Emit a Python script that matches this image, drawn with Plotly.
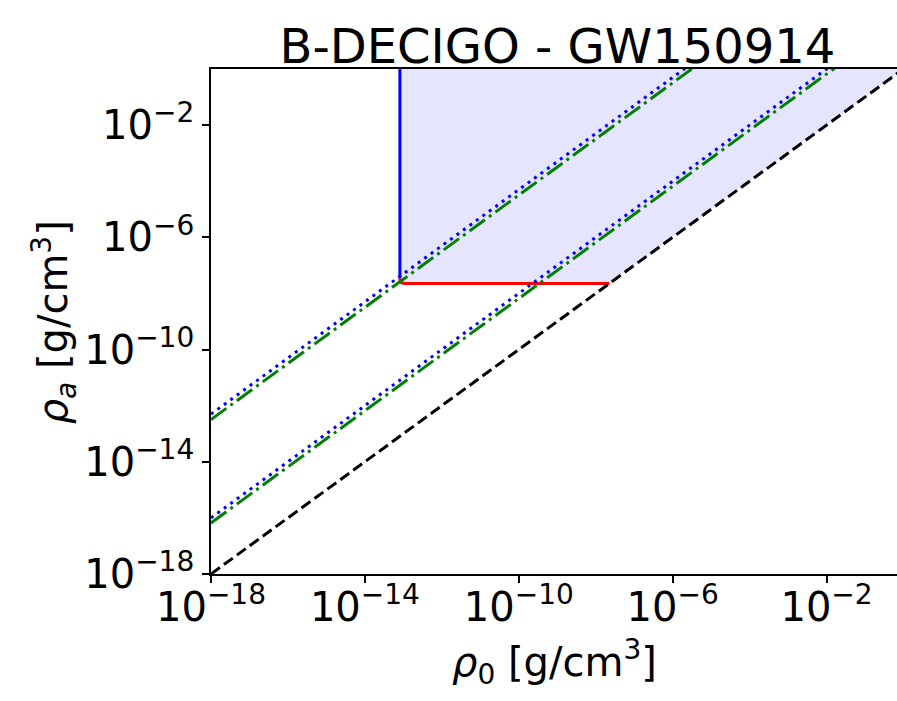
import plotly.graph_objects as go

# ---------------- data ----------------
diag_rho0 = [1e-18, 1e0]
black_rhoa = [1e-18, 1e0]                 # rho_a = rho_0
blue_upper_rhoa = [5.0e-13, 5.0e5]
green_upper_rhoa = [3.2e-13, 3.2e5]
blue_lower_rhoa = [1.0e-16, 1.0e2]
green_lower_rhoa = [6.6e-17, 6.6e1]

vert_rho0 = [8.13e-14, 8.13e-14]
vert_rhoa = [1e0, 3.39e-8]

red_rho0 = [8.13e-14, 8.25e-14, 8.9e-14, 1.02e-13, 1.25e-13, 2.26e-8]
red_rhoa = [3.39e-8, 2.75e-8, 2.42e-8, 2.30e-8, 2.26e-8, 2.26e-8]

tick_vals = [1e-18, 1e-14, 1e-10, 1e-6, 1e-2]
tick_text = ["10<sup>\u221218</sup>", "10<sup>\u221214</sup>", "10<sup>\u221210</sup>",
             "10<sup>\u22126</sup>", "10<sup>\u22122</sup>"]

FONT = "DejaVu Sans"
LW = 3

fig = go.Figure()

# shaded allowed region
fill_x = vert_rho0 + red_rho0[1:] + [diag_rho0[1], vert_rho0[0]]
fill_y = vert_rhoa + red_rhoa[1:] + [black_rhoa[1], vert_rhoa[0]]
fig.add_trace(go.Scatter(x=fill_x, y=fill_y, mode="lines", fill="toself",
                         fillcolor="rgba(0,0,255,0.1)", line=dict(width=0),
                         hoverinfo="skip", showlegend=False))

fig.add_trace(go.Scatter(x=vert_rho0, y=vert_rhoa, mode="lines",
                         line=dict(color="blue", width=LW), showlegend=False))
fig.add_trace(go.Scatter(x=red_rho0, y=red_rhoa, mode="lines",
                         line=dict(color="red", width=LW, shape="spline", smoothing=0.8),
                         showlegend=False))

for ys in (green_upper_rhoa, green_lower_rhoa):
    fig.add_trace(go.Scatter(x=diag_rho0, y=ys, mode="lines",
                             line=dict(color="green", width=LW, dash="19px,5px,3px,5px"),
                             showlegend=False))
for ys in (blue_upper_rhoa, blue_lower_rhoa):
    fig.add_trace(go.Scatter(x=diag_rho0, y=ys, mode="lines",
                             line=dict(color="blue", width=LW, dash="3px,5px"),
                             showlegend=False))

fig.add_trace(go.Scatter(x=diag_rho0, y=black_rhoa, mode="lines",
                         line=dict(color="black", width=LW, dash="11px,5px"),
                         showlegend=False))

axis_common = dict(type="log", tickvals=tick_vals, ticktext=tick_text,
                   ticks="outside", ticklen=7, tickwidth=1.5, tickcolor="black",
                   showline=True, linecolor="black", linewidth=1.5,
                   showgrid=False, zeroline=False,
                   tickfont=dict(family=FONT, size=40, color="black"))

fig.update_layout(
    width=897, height=701,
    margin=dict(l=211, r=0, t=68.5, b=127.2),
    paper_bgcolor="white", plot_bgcolor="white",
    font=dict(family=FONT, color="black"),
    title=dict(text="B-DECIGO - GW150914", x=0.505, xref="paper", xanchor="center",
               y=1 - 63 / 701, yref="container", yanchor="bottom",
               font=dict(family=FONT, size=48, color="black")),
    xaxis=dict(range=[-18, -0.168], mirror=True, ticklabelstandoff=-10, **axis_common),
    yaxis=dict(range=[-18, 0], mirror=False, **axis_common),
    annotations=[
        dict(text="<i>\u03c1</i><sub>0</sub> [g/cm<sup>3</sup>]", xref="paper", yref="paper",
             x=(554.5 - 211) / 686, y=(573.8 - 662) / 505.3, xanchor="center", yanchor="middle",
             showarrow=False, font=dict(family=FONT, size=40, color="black")),
        dict(text="<i>\u03c1<sub>a</sub></i> [g/cm<sup>3</sup>]", xref="paper", yref="paper",
             x=(54 - 211) / 686, y=(573.8 - 322) / 505.3, xanchor="center", yanchor="middle",
             textangle=-90, showarrow=False, font=dict(family=FONT, size=40, color="black")),
    ],
)

fig.write_html("out.html", config={"displayModeBar": False},
               post_script="document.body.style.margin='0px';document.body.style.overflow='hidden';")
